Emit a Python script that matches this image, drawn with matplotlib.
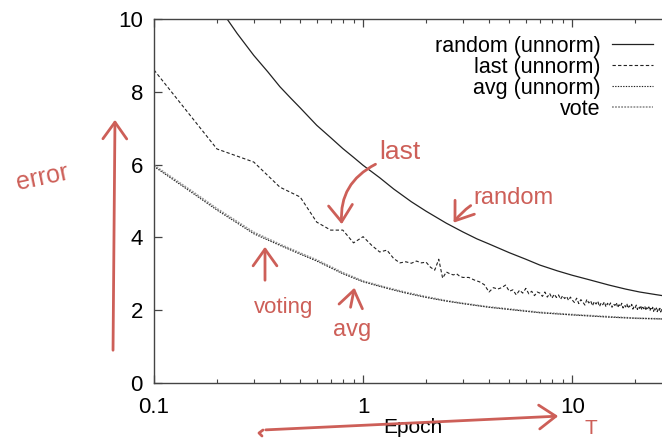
import numpy as np
import matplotlib
matplotlib.use("Agg")
from matplotlib import pyplot as plt
from matplotlib.patches import FancyArrowPatch

plt.rcParams['font.family'] = ['Liberation Sans', 'DejaVu Sans']

# ---- data ----
random_epoch = [0.2, 0.25, 0.3, 0.35, 0.4, 0.45, 0.5, 0.6, 0.7, 0.8, 0.9, 1.0, 1.2, 1.4, 1.7,
                2.0, 2.5, 3.0, 3.5, 4.0, 5.0, 6.0, 7.0, 8.5, 10.0, 12.0, 15.0, 18.0, 21.0, 25.0, 30.0]
random_err = [10.4, 9.6, 9.0, 8.55, 8.14, 7.83, 7.56, 7.08, 6.74, 6.44, 6.2, 5.98, 5.64, 5.33, 4.98,
              4.72, 4.39, 4.15, 3.96, 3.82, 3.58, 3.4, 3.24, 3.08, 2.96, 2.84, 2.69, 2.58, 2.5, 2.43, 2.36]

avg_epoch = [0.1, 0.15, 0.2, 0.3, 0.4, 0.5, 0.6, 0.8, 1.0, 1.3, 1.6, 2.0, 2.5, 3.0, 4.0, 5.0, 7.0, 10.0, 15.0, 20.0, 27.0, 30.0]
avg_err = [5.95, 5.25, 4.75, 4.1, 3.78, 3.54, 3.35, 3.0, 2.78, 2.6, 2.47, 2.35, 2.25, 2.18, 2.08, 2.02, 1.93, 1.87, 1.81, 1.78, 1.76, 1.75]
vote_err = [5.98, 5.29, 4.79, 4.14, 3.81, 3.57, 3.38, 3.03, 2.8, 2.62, 2.49, 2.37, 2.26, 2.19, 2.09, 2.03, 1.94, 1.88, 1.82, 1.78, 1.76, 1.75]

last_epoch = np.concatenate([np.arange(0.1, 3.05, 0.1),
                             np.arange(3.2, 10.05, 0.2),
                             np.arange(10.25, 27.05, 0.25)])
last_err = [
    8.6, 6.43, 6.07, 5.38, 5.11, 4.42, 4.2, 4.2, 3.85, 4.02,
    3.78, 3.6, 3.65, 3.42, 3.3, 3.33, 3.29, 3.35, 3.3, 3.32,
    3.18, 3.1, 3.4, 2.88, 3.05, 3.0, 2.97, 3.0, 2.93, 2.9,
    2.9, 2.83, 2.78, 2.7, 2.5, 2.62, 2.58, 2.62, 2.69, 2.52,
    2.56, 2.42, 2.55, 2.47, 2.6, 2.45, 2.52, 2.4, 2.5, 2.47,
    2.38, 2.5, 2.36, 2.46, 2.33, 2.44, 2.35, 2.42, 2.3, 2.4,
    2.32, 2.38, 2.27, 2.36, 2.28,
    2.21, 2.33, 2.18, 2.29, 2.22, 2.14, 2.3, 2.2, 2.26, 2.12,
    2.24, 2.17, 2.25, 2.1, 2.2, 2.15, 2.23, 2.09, 2.19, 2.12,
    2.2, 2.08, 2.17, 2.13, 2.21, 2.07, 2.15, 2.1, 2.19, 2.06,
    2.14, 2.09, 2.18, 2.05, 2.12, 2.08, 2.16, 2.03, 2.11, 2.07,
    2.14, 2.02, 2.1, 2.05, 2.13, 2.01, 2.08, 2.04, 2.11, 1.99,
    2.07, 2.02, 2.09, 1.98, 2.05, 2.0, 2.08, 1.97, 2.04, 1.99,
    2.06, 1.96, 2.03, 1.98, 2.05, 1.95, 2.02, 1.97]

xtick_vals = [0.1, 1, 10]
xtick_labels = ['0.1', '1', '10']
ytick_vals = [0, 2, 4, 6, 8, 10]

W, H = 662, 438
RED = '#cd5f58'


def px(x, y):
    # pixel position in the picture -> figure fraction
    return (x / W, 1 - y / H)


fig = plt.figure(figsize=(6.62, 4.38), dpi=100)
ax = fig.add_axes([154 / W, 1 - 383 / H, (672 - 154) / W, (383 - 19) / H])

ax.plot(random_epoch, random_err, color='#222222', lw=0.9, label='random (unnorm)')
ax.plot(last_epoch, last_err[:len(last_epoch)], color='#222222', lw=0.8,
        linestyle=(0, (3, 2)), label='last (unnorm)')
ax.plot(avg_epoch, vote_err, color='#999999', lw=1.3, linestyle=(0, (1, 0.7)), label='vote')
ax.plot(avg_epoch, avg_err, color='#222222', lw=0.8, linestyle=(0, (1.2, 1.2)), label='avg (unnorm)')

ax.set_xscale('log')
ax.set_xlim(0.1, 30)
ax.set_ylim(0, 10)
ax.set_xticks(xtick_vals)
ax.set_xticklabels(xtick_labels)
ax.set_yticks(ytick_vals)
ax.tick_params(which='both', direction='in', top=True, right=True, labelsize=16, color='#444444')
ax.tick_params(which='major', length=6, width=0.9)
ax.tick_params(which='minor', length=3, width=0.8)
ax.tick_params(axis='x', pad=10)
ax.tick_params(axis='y', pad=8)
ax.set_xlabel('Epoch', fontsize=15, labelpad=0)
for s in ax.spines.values():
    s.set_color('#444444')
    s.set_linewidth(1.0)

h, l = ax.get_legend_handles_labels()
order = [0, 1, 3, 2]
ax.legend([h[i] for i in order], [l[i] for i in order], loc='upper right',
          bbox_to_anchor=px(653, 36), bbox_transform=fig.transFigure,
          frameon=False, markerfirst=False, fontsize=15.5, labelspacing=0.0,
          handlelength=1.9, handletextpad=0.55, borderpad=0, borderaxespad=0)
for t in ax.get_legend().get_texts():
    t.set_ha('right')
ax.get_legend()._legend_box.align = 'right'

# ---- red hand-drawn notes ----
hand = ['Liberation Sans', 'DejaVu Sans']


def note(x, y, s, size, rot=0):
    fig.text(*px(x, y), s, color=RED, fontsize=size, family=hand,
             ha='center', va='center', rotation=rot)


def arrow(p0, p1, rad=0.0, head=12):
    a = FancyArrowPatch(px(*p0), px(*p1), transform=fig.transFigure,
                        connectionstyle='arc3,rad=%s' % rad,
                        arrowstyle='->,head_length=%s,head_width=%s' % (head / 20, head / 28),
                        color=RED, lw=2.0, mutation_scale=20, capstyle='round')
    fig.add_artist(a)


note(42, 178, 'error', 18, rot=12)
arrow((113, 353), (115, 117))
arrow((263, 430), (561, 416), rad=0.0)
fig.add_artist(plt.Line2D([263 / W, 259 / W, 262 / W], [1 - 430 / H, 1 - 433 / H, 1 - 436 / H],
                          color=RED, lw=2.0, solid_capstyle='round'))
note(591, 428, 'T', 15)

note(400, 152, 'last', 19)
arrow((378, 163), (342, 227), rad=0.35)
note(513, 198, 'random', 17)
arrow((473, 204), (452, 225), rad=0.1)
note(284, 308, 'voting', 16)
arrow((265, 283), (265, 244))
note(352, 330, 'avg', 17)
arrow((350, 310), (355, 285))

fig.savefig('out.png', dpi=100)
